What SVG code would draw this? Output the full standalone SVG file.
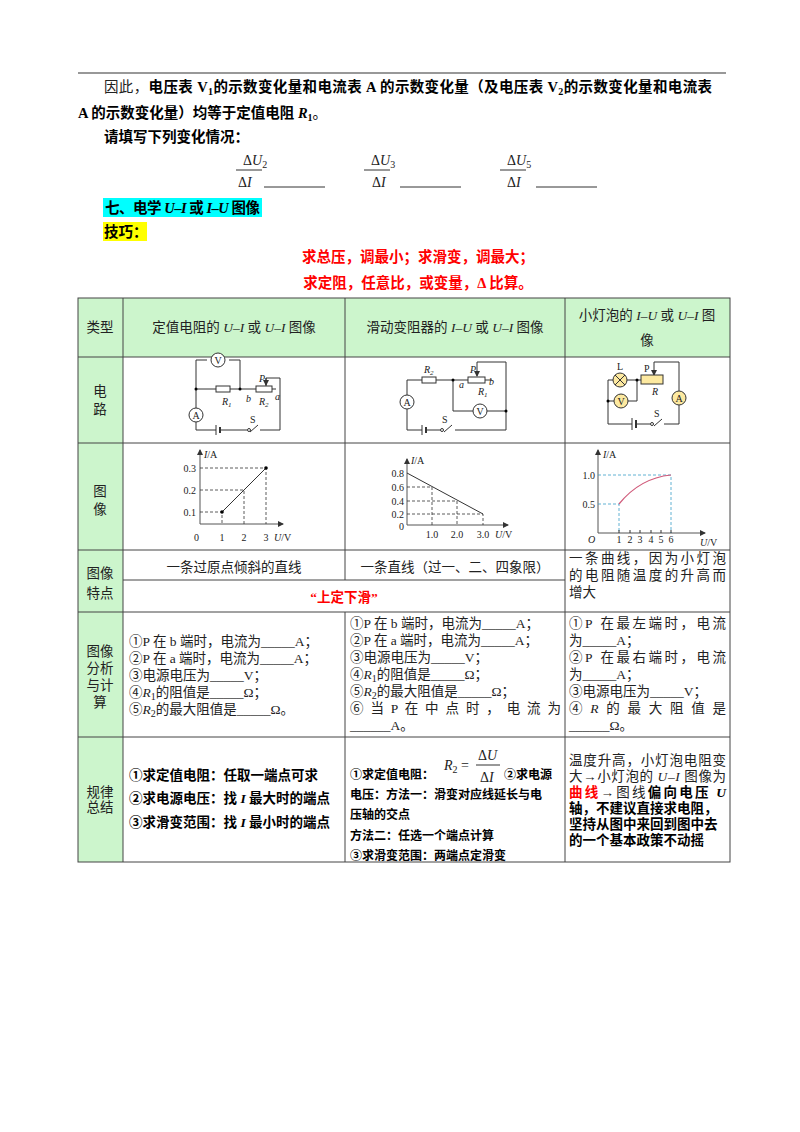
<svg xmlns="http://www.w3.org/2000/svg" width="800" height="1132" viewBox="0 0 800 1132">
<style>
text{font-family:"Liberation Serif","Noto Sans CJK SC",serif;font-size:13.5px;fill:#222}
.t{font-size:14.5px}
.b{font-weight:bold;fill:#000}
.r{fill:#f00;font-weight:bold}
.c{text-anchor:middle}
.i{font-style:italic}
.s{font-size:10px}
.g{stroke:#555;stroke-width:1;fill:none}
.w{stroke:#333;stroke-width:1;fill:none}
.d{stroke:#333;stroke-width:0.8;stroke-dasharray:3 2;fill:none}
.dc{stroke:#3aa0c8;stroke-width:0.8;stroke-dasharray:3 2;fill:none}
.m{fill:#fff;stroke:#333;stroke-width:1}
.y{fill:#fde9a0;stroke:#333;stroke-width:1}
</style>
<defs><marker id="ar" markerWidth="6" markerHeight="6" refX="5" refY="3" orient="auto"><path d="M0,0 L6,3 L0,6 z" fill="#333"/></marker></defs>

<g id="intro">
<line x1="78" y1="73" x2="726" y2="73" stroke="#333" stroke-width="1.2"/>
<text x="104" y="92" class="t" textLength="608">因此，<tspan class="b">电压表 V<tspan class="s" dy="3">1</tspan><tspan dy="-3">的示数变化量和电流表 A 的示数变化量（及电压表 V</tspan><tspan class="s" dy="3">2</tspan><tspan dy="-3">的示数变化量和电流表</tspan></tspan></text>
<text x="78" y="118" class="b t">A 的示数变化量）均等于定值电阻 <tspan class="i">R</tspan><tspan class="s" dy="3">1</tspan><tspan dy="-3" style="font-weight:normal">。</tspan></text>
<text x="104" y="142" class="b t">请填写下列变化情况：</text>
<text x="243" y="165" style="font-size:14px">Δ<tspan class="i">U</tspan><tspan class="s" dy="3">2</tspan></text>
<line x1="236" y1="170" x2="262" y2="170" stroke="#333"/>
<text x="238" y="187" style="font-size:14px">Δ<tspan class="i">I</tspan></text>
<line x1="264" y1="187" x2="325" y2="187" stroke="#333"/>
<text x="371" y="165" style="font-size:14px">Δ<tspan class="i">U</tspan><tspan class="s" dy="3">3</tspan></text>
<line x1="364" y1="170" x2="390" y2="170" stroke="#333"/>
<text x="372" y="187" style="font-size:14px">Δ<tspan class="i">I</tspan></text>
<line x1="400" y1="187" x2="461" y2="187" stroke="#333"/>
<text x="507" y="165" style="font-size:14px">Δ<tspan class="i">U</tspan><tspan class="s" dy="3">5</tspan></text>
<line x1="500" y1="170" x2="526" y2="170" stroke="#333"/>
<text x="507" y="187" style="font-size:14px">Δ<tspan class="i">I</tspan></text>
<line x1="536" y1="187" x2="597" y2="187" stroke="#333"/>
<rect x="103" y="198" width="159" height="19" fill="#00ffff"/>
<text x="105" y="213" class="b t" textLength="155">七、电学 <tspan class="i">U</tspan>–<tspan class="i">I</tspan> 或 <tspan class="i">I</tspan>–<tspan class="i">U</tspan> 图像</text>
<rect x="103" y="222" width="44" height="19" fill="#ffff00"/>
<text x="104" y="237" class="b t">技巧：</text>
<text x="418" y="262" class="r c t">求总压，调最小；求滑变，调最大；</text>
<text x="418" y="288" class="r c t">求定阻，任意比，或变量，Δ 比算。</text>
</g>

<g id="table">
<rect x="78" y="298" width="652" height="59" fill="#ccf5cc"/>
<rect x="78" y="357" width="45" height="505" fill="#ccf5cc"/>
<g stroke="#444" stroke-width="1" fill="none">
<rect x="78" y="298" width="652" height="564"/>
<line x1="123" y1="298" x2="123" y2="862"/>
<line x1="345" y1="298" x2="345" y2="580"/>
<line x1="345" y1="612" x2="345" y2="862"/>
<line x1="565" y1="298" x2="565" y2="862"/>
<line x1="78" y1="357" x2="730" y2="357"/>
<line x1="78" y1="443" x2="730" y2="443"/>
<line x1="78" y1="550" x2="730" y2="550"/>
<line x1="123" y1="580" x2="565" y2="580"/>
<line x1="78" y1="612" x2="730" y2="612"/>
<line x1="78" y1="737" x2="730" y2="737"/>
</g>
</g>

<g id="headers">
<text x="100" y="332" class="c">类型</text>
<text x="234" y="332" class="c">定值电阻的 <tspan class="i">U</tspan>–<tspan class="i">I</tspan> 或 <tspan class="i">U</tspan>–<tspan class="i">I</tspan> 图像</text>
<text x="455" y="332" class="c">滑动变阻器的 <tspan class="i">I</tspan>–<tspan class="i">U</tspan> 或 <tspan class="i">U</tspan>–<tspan class="i">I</tspan> 图像</text>
<text x="647" y="320" class="c">小灯泡的 <tspan class="i">I</tspan>–<tspan class="i">U</tspan> 或 <tspan class="i">U</tspan>–<tspan class="i">I</tspan> 图</text>
<text x="647" y="345" class="c">像</text>
<text x="100" y="396" class="c">电</text><text x="100" y="414" class="c">路</text>
<text x="100" y="496" class="c">图</text><text x="100" y="514" class="c">像</text>
<text x="100" y="578" class="c">图像</text><text x="100" y="598" class="c">特点</text>
<text x="100" y="656" class="c">图像</text><text x="100" y="673" class="c">分析</text><text x="100" y="690" class="c">与计</text><text x="100" y="707" class="c">算</text>
<text x="100" y="797" class="c">规律</text><text x="100" y="812" class="c">总结</text>
</g>

<g id="circuit1">
<path class="w" d="M196,389 V360 H207 M229,360 H240 V389 M196,389 V408 M196,422 V430 H216 M220,430 H247 M258,425 L250,432 M260,430 H280 V378 H266 V386 M196,389 H216 M230,389 H256 M272,389 H276"/>
<line x1="266" y1="378" x2="266" y2="385" stroke="#333" marker-end="url(#ar)"/>
<line x1="216" y1="425" x2="216" y2="435" stroke="#333"/>
<line x1="220" y1="427" x2="220" y2="433" stroke="#333" stroke-width="2"/>
<circle cx="218" cy="360" r="7" class="m"/><text x="218" y="364" class="c s">V</text>
<circle cx="196" cy="415" r="7" class="m"/><text x="196" y="419" class="c s">A</text>
<rect x="216" y="386" width="14" height="6" class="m"/>
<rect x="256" y="386" width="16" height="6" class="m"/>
<circle cx="196" cy="389" r="1.5"/><circle cx="240" cy="389" r="1.5"/>
<circle cx="249" cy="430" r="1.5" class="m"/>
<text x="222" y="405" class="s i">R<tspan dy="2" font-size="7">1</tspan></text>
<text x="246" y="402" class="s i">b</text>
<text x="259" y="405" class="s i">R<tspan dy="2" font-size="7">2</tspan></text>
<text x="275" y="400" class="s i">a</text>
<text x="259" y="382" class="s i">P</text>
<text x="250" y="423" class="s">S</text>
</g>

<g id="circuit2">
<path class="w" d="M407,380 V395 M407,409 V430 H422 M426,430 H440 M452,425 L444,432 M455,430 H506 V362 H477 M407,380 H422 M436,380 H468 M485,380 H492 M453,380 V411 H473 M487,411 H506"/>
<line x1="477" y1="362" x2="477" y2="376" stroke="#333" marker-end="url(#ar)"/>
<line x1="422" y1="425" x2="422" y2="435" stroke="#333"/>
<line x1="426" y1="427" x2="426" y2="433" stroke="#333" stroke-width="2"/>
<circle cx="407" cy="402" r="7" class="m"/><text x="407" y="406" class="c s">A</text>
<circle cx="480" cy="411" r="7" class="m"/><text x="480" y="415" class="c s">V</text>
<rect x="422" y="377" width="14" height="6" class="m"/>
<rect x="468" y="377" width="17" height="6" class="m"/>
<circle cx="453" cy="380" r="1.5"/><circle cx="506" cy="411" r="1.5"/>
<circle cx="442" cy="430" r="1.5" class="m"/>
<text x="424" y="373" class="s i">R<tspan dy="2" font-size="7">2</tspan></text>
<text x="470" y="373" class="s i">P</text>
<text x="459" y="388" class="s i">a</text>
<text x="489" y="385" class="s i">b</text>
<text x="478" y="395" class="s i">R<tspan dy="2" font-size="7">1</tspan></text>
<text x="442" y="423" class="s">S</text>
</g>

<g id="circuit3">
<path class="w" d="M608,380 H613 M627,380 H641 M608,380 V424 H632 M636,424 H650 M662,419 L654,426 M664,424 H679 V405 M679,391 V362 H654 M608,401 H614 M628,401 H637 V380"/>
<line x1="654" y1="362" x2="654" y2="375" stroke="#333" marker-end="url(#ar)"/>
<line x1="632" y1="418" x2="632" y2="430" stroke="#333"/>
<line x1="636" y1="420" x2="636" y2="428" stroke="#333" stroke-width="2"/>
<circle cx="620" cy="380" r="7" class="y"/>
<path d="M615,375 L625,385 M625,375 L615,385" stroke="#333"/>
<circle cx="621" cy="401" r="7" class="y"/><text x="621" y="405" class="c s">V</text>
<circle cx="679" cy="398" r="7" class="y"/><text x="679" y="402" class="c s">A</text>
<rect x="641" y="375" width="22" height="9" class="y"/>
<circle cx="608" cy="401" r="1.5"/><circle cx="637" cy="380" r="1.5"/>
<circle cx="652" cy="424" r="1.5" class="m"/>
<text x="617" y="370" class="s">L</text>
<text x="644" y="372" class="s">P</text>
<text x="652" y="395" class="s i">R</text>
<text x="654" y="417" class="s">S</text>
</g>

<g id="graph1">
<line x1="200" y1="524" x2="200" y2="450" class="g" marker-end="url(#ar)"/>
<line x1="200" y1="524" x2="283" y2="524" class="g" marker-end="url(#ar)"/>
<path class="d" d="M200,512 H222 V524 M200,490 H244 V524 M200,468 H266 V524"/>
<line x1="222" y1="512" x2="266" y2="468" stroke="#333"/>
<circle cx="222" cy="512" r="1.8"/><circle cx="266" cy="468" r="1.8"/>
<text x="204" y="458" class="s i">I<tspan font-style="normal">/A</tspan></text>
<text x="196" y="472" text-anchor="end" class="s">0.3</text>
<text x="196" y="494" text-anchor="end" class="s">0.2</text>
<text x="196" y="516" text-anchor="end" class="s">0.1</text>
<text x="194" y="541" class="s">0</text>
<text x="222" y="541" class="s c">1</text><text x="244" y="541" class="s c">2</text><text x="266" y="541" class="s c">3</text>
<text x="274" y="541" class="s i">U<tspan font-style="normal">/V</tspan></text>
</g>

<g id="graph2">
<line x1="407" y1="525" x2="407" y2="459" class="g" marker-end="url(#ar)"/>
<line x1="407" y1="525" x2="508" y2="525" class="g" marker-end="url(#ar)"/>
<path class="d" d="M407,487 H432 V525 M407,501 H457 V525 M407,514 H483 V525"/>
<line x1="407" y1="473" x2="483" y2="514" stroke="#333"/>
<text x="411" y="464" class="s i">I<tspan font-style="normal">/A</tspan></text>
<text x="404" y="477" text-anchor="end" class="s">0.8</text>
<text x="404" y="491" text-anchor="end" class="s">0.6</text>
<text x="404" y="505" text-anchor="end" class="s">0.4</text>
<text x="404" y="518" text-anchor="end" class="s">0.2</text>
<text x="399" y="530" class="s">0</text>
<text x="432" y="538" class="s c">1.0</text><text x="457" y="538" class="s c">2.0</text><text x="483" y="538" class="s c">3.0</text>
<text x="495" y="538" class="s i">U<tspan font-style="normal">/V</tspan></text>
</g>

<g id="graph3">
<line x1="598" y1="533" x2="598" y2="450" class="g" marker-end="url(#ar)"/>
<line x1="598" y1="533" x2="705" y2="533" class="g" marker-end="url(#ar)"/>
<path class="dc" d="M598,504 H619 V533 M598,475 H671 V533"/>
<path d="M619,504 Q640,478 671,475" stroke="#d05a7a" stroke-width="1.2" fill="none"/>
<path stroke="#333" d="M619,533 v-3 M630,533 v-3 M640,533 v-3 M651,533 v-3 M661,533 v-3 M671,533 v-3"/>
<text x="603" y="458" class="s i">I<tspan font-style="normal">/A</tspan></text>
<text x="595" y="479" text-anchor="end" class="s">1.0</text>
<text x="595" y="508" text-anchor="end" class="s">0.5</text>
<text x="588" y="543" class="s i">O</text>
<text x="619" y="543" class="s c">1</text><text x="630" y="543" class="s c">2</text><text x="640" y="543" class="s c">3</text><text x="651" y="543" class="s c">4</text><text x="661" y="543" class="s c">5</text><text x="671" y="543" class="s c">6</text>
<text x="700" y="546" class="s i">U<tspan font-style="normal">/V</tspan></text>
</g>

<g id="features">
<text x="234" y="572" class="c">一条过原点倾斜的直线</text>
<text x="455" y="572" class="c">一条直线（过一、二、四象限）</text>
<text x="569" y="563" textLength="157">一条曲线，因为小灯泡</text>
<text x="569" y="580" textLength="157">的电阻随温度的升高而</text>
<text x="569" y="597">增大</text>
<text x="344" y="602" class="r c">“上定下滑”</text>
</g>

<g id="analysis">
<text x="129" y="646">①P 在 b 端时，电流为_____A；</text>
<text x="129" y="663">②P 在 a 端时，电流为_____A；</text>
<text x="129" y="680">③电源电压为_____V；</text>
<text x="129" y="697">④<tspan class="i">R</tspan><tspan class="s" dy="3">1</tspan><tspan dy="-3">的阻值是_____Ω；</tspan></text>
<text x="129" y="714">⑤<tspan class="i">R</tspan><tspan class="s" dy="3">2</tspan><tspan dy="-3">的最大阻值是_____Ω。</tspan></text>
<text x="350" y="628">①P 在 b 端时，电流为_____A；</text>
<text x="350" y="645">②P 在 a 端时，电流为_____A；</text>
<text x="350" y="662">③电源电压为_____V；</text>
<text x="350" y="679">④<tspan class="i">R</tspan><tspan class="s" dy="3">1</tspan><tspan dy="-3">的阻值是_____Ω；</tspan></text>
<text x="350" y="696">⑤<tspan class="i">R</tspan><tspan class="s" dy="3">2</tspan><tspan dy="-3">的最大阻值是_____Ω；</tspan></text>
<text x="350" y="713" textLength="211">⑥ 当 P 在 中 点 时 ， 电 流 为</text>
<text x="350" y="730">______A。</text>
<text x="569" y="628" textLength="157">①P 在最左端时，电流</text>
<text x="569" y="645">为_____A；</text>
<text x="569" y="662" textLength="157">②P 在最右端时，电流</text>
<text x="569" y="679">为_____A；</text>
<text x="569" y="696">③电源电压为_____V；</text>
<text x="569" y="713" textLength="157">④ <tspan class="i">R</tspan> 的 最 大 阻 值 是</text>
<text x="569" y="730">______Ω。</text>
</g>

<g id="summary">
<text x="129" y="780" class="b">①求定值电阻：任取一端点可求</text>
<text x="129" y="803" class="b">②求电源电压：找 <tspan class="i">I</tspan> 最大时的端点</text>
<text x="129" y="827" class="b">③求滑变范围：找 <tspan class="i">I</tspan> 最小时的端点</text>
<text x="444" y="770" style="font-size:14px" class="i">R<tspan class="s" dy="3" font-style="normal">2</tspan><tspan dy="-3" font-style="normal"> =</tspan></text>
<text x="478" y="760" style="font-size:14px">Δ<tspan class="i">U</tspan></text>
<line x1="476" y1="765" x2="500" y2="765" stroke="#333"/>
<text x="480" y="782" style="font-size:14px">Δ<tspan class="i">I</tspan></text>
<text x="350" y="779" class="b" style="font-size:12px">①求定值电阻：</text>
<text x="504" y="779" class="b" style="font-size:12px">②求电源</text>
<text x="350" y="799" class="b" style="font-size:12px">电压：方法一：滑变对应线延长与电</text>
<text x="350" y="819" class="b" style="font-size:12px">压轴的交点</text>
<text x="350" y="840" class="b" style="font-size:12px">方法二：任选一个端点计算</text>
<text x="350" y="860" class="b" style="font-size:12px">③求滑变范围：两端点定滑变</text>
<text x="569" y="765" textLength="157">温度升高，小灯泡电阻变</text>
<text x="569" y="781" textLength="157">大→小灯泡的 <tspan class="i">U</tspan>–<tspan class="i">I</tspan> 图像为</text>
<text x="569" y="797" textLength="157"><tspan class="r">曲线</tspan>→图线<tspan class="b">偏向电压 <tspan class="i">U</tspan></tspan></text>
<text x="569" y="813" class="b">轴，不建议直接求电阻，</text>
<text x="569" y="829" class="b">坚持从图中来回到图中去</text>
<text x="569" y="845" class="b">的一个基本政策不动摇</text>
</g>
</svg>
